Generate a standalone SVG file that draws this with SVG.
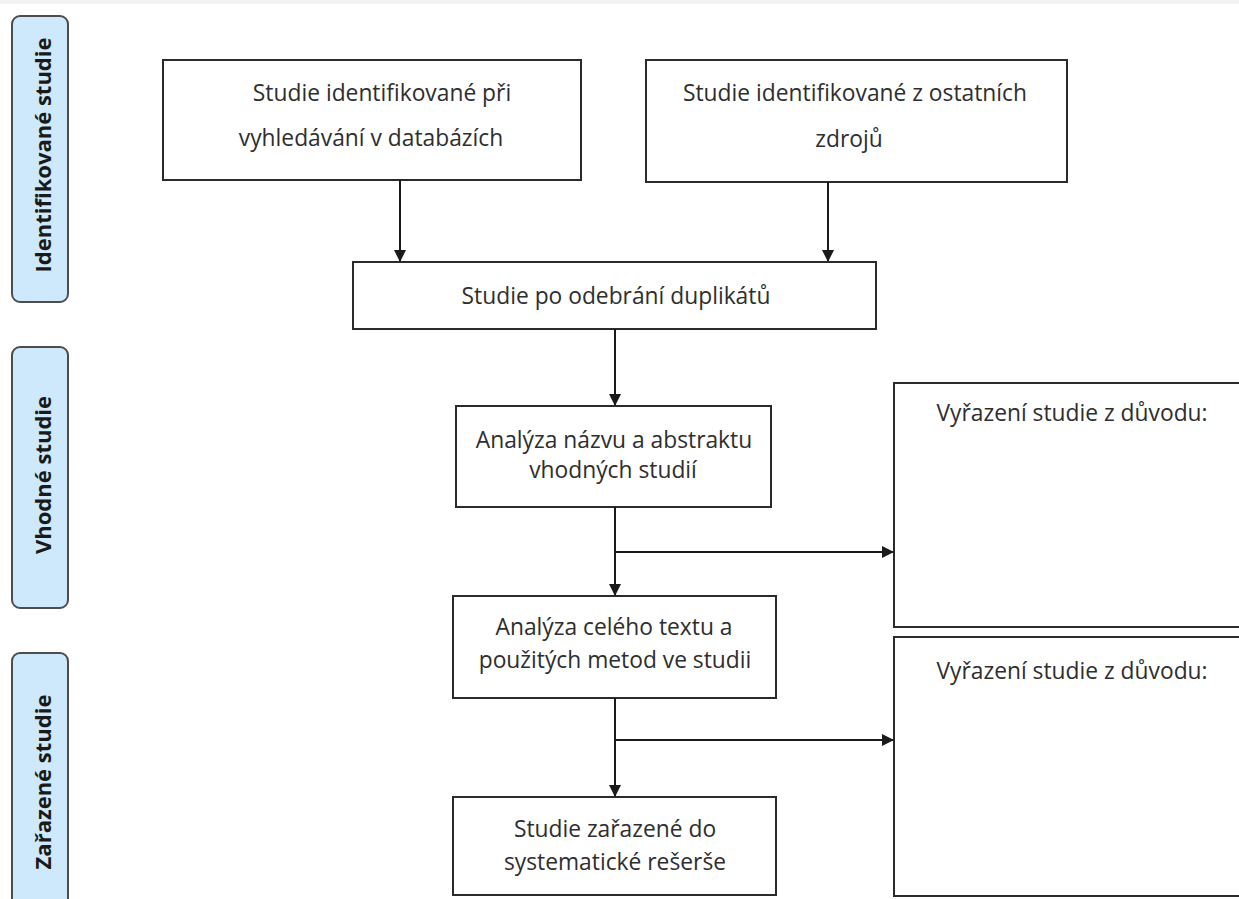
<svg xmlns="http://www.w3.org/2000/svg" width="1239" height="899" viewBox="0 0 1239 899">
<defs>
<marker id="arr" markerWidth="12" markerHeight="12" refX="11" refY="6" orient="auto" markerUnits="userSpaceOnUse">
<path d="M0,0 L12,6 L0,12 Z" fill="#1a1a1a"/>
</marker>
<style>
.box{fill:#ffffff;stroke:#2b2b2b;stroke-width:2}
.lab{fill:#cde9fb;stroke:#4d4d4d;stroke-width:2}
.t{font-family:"Open Sans","Noto Sans",sans-serif;font-size:22.8px;fill:#2e2e2e;text-anchor:middle}
.lt{font-family:"Open Sans","Noto Sans",sans-serif;font-size:22px;font-weight:bold;fill:#1a1a1a;text-anchor:middle}
.c{fill:none;stroke:#1a1a1a;stroke-width:2}
</style>
</defs>
<rect x="0" y="0" width="1239" height="899" fill="#ffffff"/>
<rect x="0" y="0" width="1239" height="4" fill="#f3f3f3"/>

<g id="label-identifikovane">
<rect class="lab" x="12" y="16" width="56" height="286" rx="8"/>
<text class="lt" transform="translate(51,155) rotate(-90)">Identifikované studie</text>
</g>
<g id="label-vhodne">
<rect class="lab" x="12" y="347" width="56" height="261" rx="8"/>
<text class="lt" transform="translate(51,475) rotate(-90)">Vhodné studie</text>
</g>
<g id="label-zarazene">
<rect class="lab" x="12" y="653" width="56" height="260" rx="8"/>
<text class="lt" transform="translate(51,782) rotate(-90)">Zařazené studie</text>
</g>

<g id="node-databaze">
<rect class="box" x="163" y="60" width="418" height="120"/>
<text class="t" x="382" y="101">Studie identifikované při</text>
<text class="t" x="371" y="146">vyhledávání v databázích</text>
</g>
<g id="node-ostatni">
<rect class="box" x="646" y="60" width="421" height="122"/>
<text class="t" x="855" y="101">Studie identifikované z ostatních</text>
<text class="t" x="849" y="147">zdrojů</text>
</g>
<g id="node-duplikaty">
<rect class="box" x="353" y="262" width="523" height="67"/>
<text class="t" x="616" y="304">Studie po odebrání duplikátů</text>
</g>
<g id="node-abstrakt">
<rect class="box" x="456" y="406" width="315" height="101"/>
<text class="t" x="614" y="448">Analýza názvu a abstraktu</text>
<text class="t" x="613" y="478">vhodných studií</text>
</g>
<g id="node-vyrazeni1">
<rect class="box" x="894" y="383" width="360" height="244"/>
<text class="t" x="1072" y="421">Vyřazení studie z důvodu:</text>
</g>
<g id="node-text">
<rect class="box" x="453" y="596" width="323" height="102"/>
<text class="t" x="614" y="635">Analýza celého textu a</text>
<text class="t" x="615" y="668">použitých metod ve studii</text>
</g>
<g id="node-vyrazeni2">
<rect class="box" x="894" y="637" width="360" height="259"/>
<text class="t" x="1072" y="679">Vyřazení studie z důvodu:</text>
</g>
<g id="node-zarazene">
<rect class="box" x="453" y="797" width="323" height="98"/>
<text class="t" x="615" y="837">Studie zařazené do</text>
<text class="t" x="615" y="870">systematické rešerše</text>
</g>

<g id="connectors">
<line class="c" x1="400" y1="180" x2="400" y2="261" marker-end="url(#arr)"/>
<line class="c" x1="828" y1="182" x2="828" y2="261" marker-end="url(#arr)"/>
<line class="c" x1="615" y1="329" x2="615" y2="405" marker-end="url(#arr)"/>
<line class="c" x1="615" y1="507" x2="615" y2="595" marker-end="url(#arr)"/>
<line class="c" x1="615" y1="552" x2="893" y2="552" marker-end="url(#arr)"/>
<line class="c" x1="615" y1="698" x2="615" y2="796" marker-end="url(#arr)"/>
<line class="c" x1="615" y1="740" x2="893" y2="740" marker-end="url(#arr)"/>
</g>
</svg>
